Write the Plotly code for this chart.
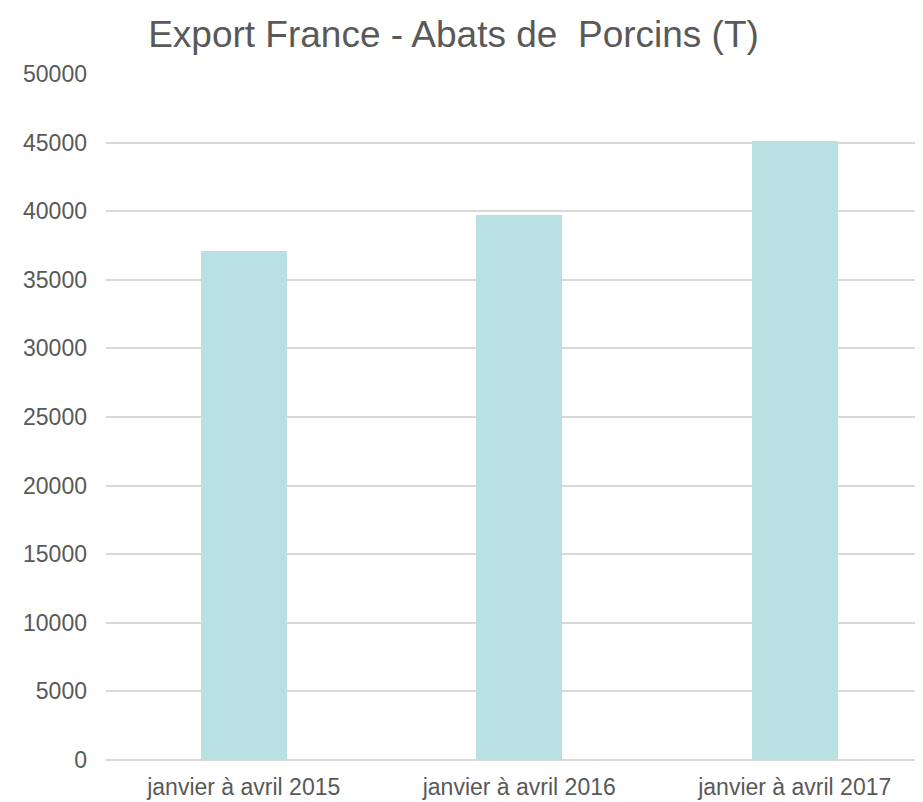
import plotly.graph_objects as go

categories = ["janvier à avril 2015", "janvier à avril 2016", "janvier à avril 2017"]
values = [37100, 39750, 45100]
y_ticks = [0, 5000, 10000, 15000, 20000, 25000, 30000, 35000, 40000, 45000, 50000]

TXT = "#595959"
GRID = "#d9d9d9"
FONT = "Liberation Sans, Arial, sans-serif"

W, H = 915, 794

fig = go.Figure(
    go.Bar(
        x=list(range(len(categories))),
        y=values,
        width=0.312,
        marker=dict(color="#b9e0e3", line=dict(width=0)),
    )
)

fig.update_layout(
    width=W,
    height=H,
    margin=dict(l=98, r=0, t=66, b=42),
    paper_bgcolor="white",
    plot_bgcolor="white",
    showlegend=False,
    font=dict(family=FONT, color=TXT, size=23),
    title=dict(
        text="Export France - Abats de&nbsp; Porcins (T)",
        font=dict(family=FONT, color=TXT, size=37),
        x=445.5 / W,
        xanchor="center",
        xref="container",
        y=1 - 13 / H,
        yanchor="top",
        yref="container",
    ),
    bargap=0,
)

fig.update_xaxes(
    tickmode="array",
    tickvals=list(range(len(categories))),
    ticktext=categories,
    range=[-0.5, 2.4655],
    showgrid=False,
    zeroline=False,
    showline=False,
    ticks="",
    tickfont=dict(size=23, color=TXT),
    ticklabelstandoff=11,
)

fig.update_yaxes(
    range=[0, 50000],
    tickmode="array",
    tickvals=y_ticks,
    ticktext=[str(v) for v in y_ticks],
    showgrid=True,
    gridcolor=GRID,
    gridwidth=1.5,
    zeroline=True,
    zerolinecolor=GRID,
    zerolinewidth=1.5,
    showline=False,
    ticks="",
    tickfont=dict(size=23, color=TXT),
    ticklabelstandoff=18,
)

fig.write_html("out.html")
